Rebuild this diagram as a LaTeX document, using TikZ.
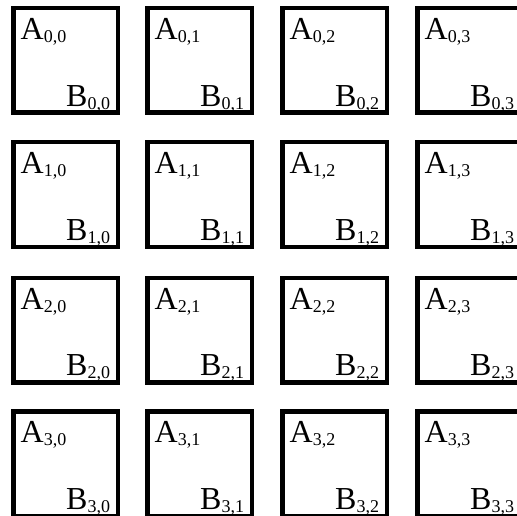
\documentclass[tikz,border=0pt]{standalone}
\usepackage{fontspec}
\setmainfont{Liberation Serif}
\usetikzlibrary{positioning}
\tikzset{
	cellnode/.style={
			shape=rectangle,
			draw=black,
			line width=4.5pt,
			minimum size=104.5pt,
			inner sep=0pt
		},
	alabel/.style={
			anchor=base west,
			inner sep=0pt,
			font=\fontsize{32}{32}\selectfont
		},
	blabel/.style={
			anchor=base east,
			inner sep=0pt,
			font=\fontsize{32}{32}\selectfont
		}
}
\newcommand{\idx}[2]{#1\raisebox{-3pt}{\fontsize{18}{18}\selectfont #2}}

\begin{document}
\begin{tikzpicture}[x=1pt, y=-1pt]
	\useasboundingbox (0,0) rectangle (517,516);
	\clip (0,0) rectangle (517,516);

	\node[cellnode] (c00) at (65.5,60.5) {};
	\node[cellnode] (c01) at (199.5,60.5) {};
	\node[cellnode] (c02) at (334.5,60.5) {};
	\node[cellnode] (c03) at (469.5,60.5) {};
	\node[cellnode] (c10) at (65.5,194.5) {};
	\node[cellnode] (c11) at (199.5,194.5) {};
	\node[cellnode] (c12) at (334.5,194.5) {};
	\node[cellnode] (c13) at (469.5,194.5) {};
	\node[cellnode] (c20) at (65.5,330) {};
	\node[cellnode] (c21) at (199.5,330) {};
	\node[cellnode] (c22) at (334.5,330) {};
	\node[cellnode] (c23) at (469.5,330) {};
	\node[cellnode] (c30) at (65.5,463.5) {};
	\node[cellnode] (c31) at (199.5,463.5) {};
	\node[cellnode] (c32) at (334.5,463.5) {};
	\node[cellnode] (c33) at (469.5,463.5) {};

	\node[alabel] (a00) at ([xshift=9.5pt, yshift=-33.75pt]c00.north west) {\idx{A}{0,0}};
	\node[alabel] (a01) at ([xshift=9.5pt, yshift=-33.75pt]c01.north west) {\idx{A}{0,1}};
	\node[alabel] (a02) at ([xshift=9.5pt, yshift=-33.75pt]c02.north west) {\idx{A}{0,2}};
	\node[alabel] (a03) at ([xshift=9.5pt, yshift=-33.75pt]c03.north west) {\idx{A}{0,3}};
	\node[alabel] (a10) at ([xshift=9.5pt, yshift=-33.75pt]c10.north west) {\idx{A}{1,0}};
	\node[alabel] (a11) at ([xshift=9.5pt, yshift=-33.75pt]c11.north west) {\idx{A}{1,1}};
	\node[alabel] (a12) at ([xshift=9.5pt, yshift=-33.75pt]c12.north west) {\idx{A}{1,2}};
	\node[alabel] (a13) at ([xshift=9.5pt, yshift=-33.75pt]c13.north west) {\idx{A}{1,3}};
	\node[alabel] (a20) at ([xshift=9.5pt, yshift=-33.75pt]c20.north west) {\idx{A}{2,0}};
	\node[alabel] (a21) at ([xshift=9.5pt, yshift=-33.75pt]c21.north west) {\idx{A}{2,1}};
	\node[alabel] (a22) at ([xshift=9.5pt, yshift=-33.75pt]c22.north west) {\idx{A}{2,2}};
	\node[alabel] (a23) at ([xshift=9.5pt, yshift=-33.75pt]c23.north west) {\idx{A}{2,3}};
	\node[alabel] (a30) at ([xshift=9.5pt, yshift=-33.75pt]c30.north west) {\idx{A}{3,0}};
	\node[alabel] (a31) at ([xshift=9.5pt, yshift=-33.75pt]c31.north west) {\idx{A}{3,1}};
	\node[alabel] (a32) at ([xshift=9.5pt, yshift=-33.75pt]c32.north west) {\idx{A}{3,2}};
	\node[alabel] (a33) at ([xshift=9.5pt, yshift=-33.75pt]c33.north west) {\idx{A}{3,3}};

	\node[blabel] (b00) at ([xshift=-9.75pt, yshift=8.75pt]c00.south east) {\idx{B}{0,0}};
	\node[blabel] (b01) at ([xshift=-9.75pt, yshift=8.75pt]c01.south east) {\idx{B}{0,1}};
	\node[blabel] (b02) at ([xshift=-9.75pt, yshift=8.75pt]c02.south east) {\idx{B}{0,2}};
	\node[blabel] (b03) at ([xshift=-9.75pt, yshift=8.75pt]c03.south east) {\idx{B}{0,3}};
	\node[blabel] (b10) at ([xshift=-9.75pt, yshift=8.75pt]c10.south east) {\idx{B}{1,0}};
	\node[blabel] (b11) at ([xshift=-9.75pt, yshift=8.75pt]c11.south east) {\idx{B}{1,1}};
	\node[blabel] (b12) at ([xshift=-9.75pt, yshift=8.75pt]c12.south east) {\idx{B}{1,2}};
	\node[blabel] (b13) at ([xshift=-9.75pt, yshift=8.75pt]c13.south east) {\idx{B}{1,3}};
	\node[blabel] (b20) at ([xshift=-9.75pt, yshift=8.75pt]c20.south east) {\idx{B}{2,0}};
	\node[blabel] (b21) at ([xshift=-9.75pt, yshift=8.75pt]c21.south east) {\idx{B}{2,1}};
	\node[blabel] (b22) at ([xshift=-9.75pt, yshift=8.75pt]c22.south east) {\idx{B}{2,2}};
	\node[blabel] (b23) at ([xshift=-9.75pt, yshift=8.75pt]c23.south east) {\idx{B}{2,3}};
	\node[blabel] (b30) at ([xshift=-9.75pt, yshift=8.75pt]c30.south east) {\idx{B}{3,0}};
	\node[blabel] (b31) at ([xshift=-9.75pt, yshift=8.75pt]c31.south east) {\idx{B}{3,1}};
	\node[blabel] (b32) at ([xshift=-9.75pt, yshift=8.75pt]c32.south east) {\idx{B}{3,2}};
	\node[blabel] (b33) at ([xshift=-9.75pt, yshift=8.75pt]c33.south east) {\idx{B}{3,3}};

\end{tikzpicture}
\end{document}
